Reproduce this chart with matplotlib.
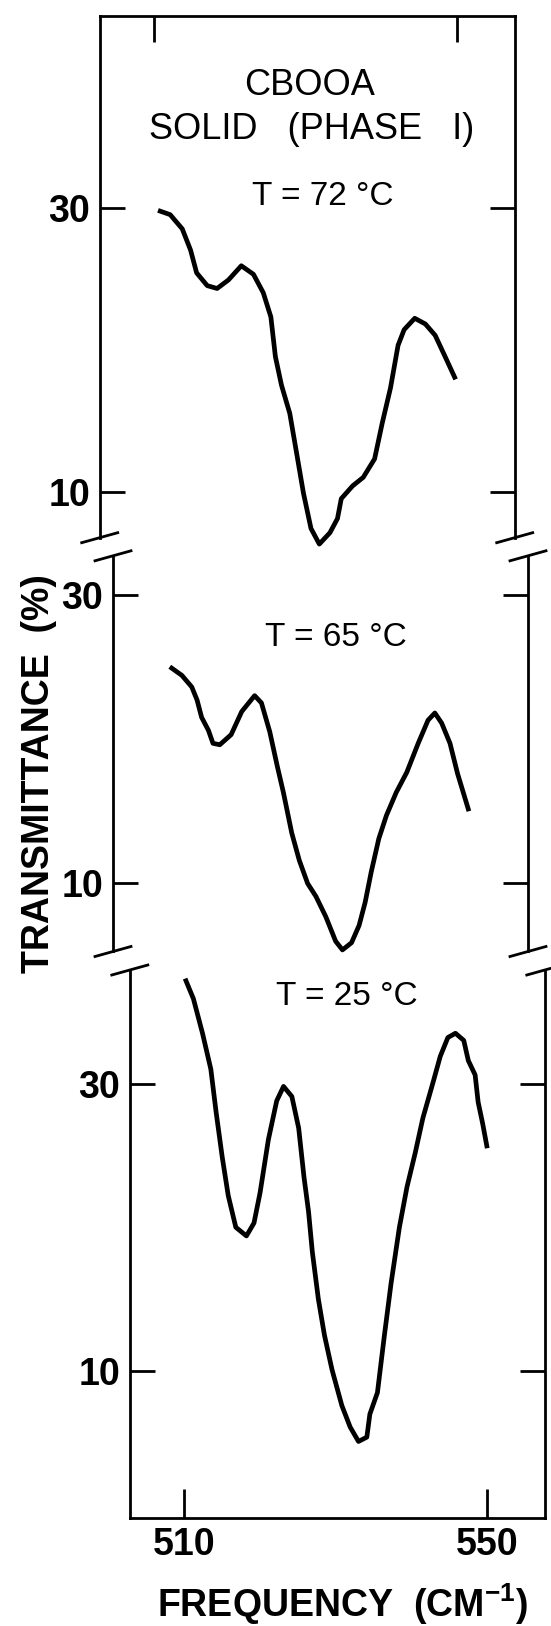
import matplotlib
matplotlib.use("Agg")
import matplotlib.pyplot as plt

plt.rcParams['font.family'] = ['Liberation Sans', 'DejaVu Sans']
plt.rcParams['mathtext.default'] = 'regular'

# ---------------- data ----------------
freq_72 = [510.5, 512.1, 513.7, 514.8, 515.6, 517.0, 518.3, 519.8, 521.5, 523.1,
           524.4, 525.4, 526.0, 526.8, 527.9, 528.9, 529.7, 530.7, 531.8, 533.2,
           534.2, 534.7, 536.2, 537.6, 539.1, 540.1, 541.2, 542.2, 543.0, 544.4,
           545.8, 547.1, 548.5, 549.8]
trans_72 = [29.8, 29.5, 28.5, 27.0, 25.4, 24.5, 24.3, 24.9, 25.9, 25.3,
            24.0, 22.3, 19.5, 17.5, 15.5, 12.4, 9.9, 7.4, 6.3, 7.1,
            8.1, 9.5, 10.4, 11.0, 12.3, 14.8, 17.3, 20.3, 21.4, 22.2,
            21.8, 21.0, 19.4, 17.9]

freq_65 = [510.3, 511.9, 513.2, 513.9, 514.5, 515.4, 516.0, 516.9, 518.4, 519.8,
           521.5, 522.4, 523.5, 524.5, 525.3, 526.4, 527.4, 528.5, 529.6, 530.9,
           532.2, 533.1, 534.3, 535.3, 536.1, 536.9, 537.9, 538.9, 540.2, 541.6,
           543.1, 544.4, 545.3, 546.2, 547.3, 548.3, 549.8]
trans_65 = [25.0, 24.4, 23.6, 22.7, 21.5, 20.6, 19.7, 19.6, 20.3, 21.9,
            23.0, 22.5, 20.5, 18.1, 16.3, 13.5, 11.6, 10.0, 9.1, 7.7,
            6.0, 5.4, 5.9, 7.1, 8.7, 10.8, 13.1, 14.7, 16.3, 17.7,
            19.7, 21.3, 21.8, 21.1, 19.7, 17.6, 15.0]

freq_25 = [510.1, 511.2, 512.4, 513.5, 514.2, 515.0, 515.8, 516.8, 518.2, 519.2,
           520.0, 521.1, 522.2, 523.1, 524.2, 525.1, 525.8, 526.4, 526.9, 527.7,
           528.5, 529.5, 530.8, 531.9, 533.0, 534.1, 534.5, 535.5, 536.4, 537.3,
           538.4, 539.4, 540.5, 541.5, 542.8, 543.8, 544.8, 545.8, 546.9, 547.5,
           548.4, 548.8, 549.4, 550.0]
trans_25 = [37.3, 35.9, 33.5, 31.0, 28.0, 24.9, 22.2, 20.0, 19.4, 20.3,
            22.4, 26.1, 28.8, 29.8, 29.1, 26.9, 23.5, 21.1, 18.3, 15.0,
            12.5, 10.1, 7.6, 6.1, 5.1, 5.4, 7.0, 8.5, 12.4, 16.1,
            20.0, 22.8, 25.2, 27.6, 30.0, 31.9, 33.2, 33.5, 33.0, 31.6,
            30.6, 28.7, 27.2, 25.5]

labels_T = ["T = 72 °C", "T = 65 °C", "T = 25 °C"]
y_ticks = [10, 30]
x_ticks = [510, 550]
x_lim = (502.8, 557.6)
y_lims = [(6.75, 43.46), (5.29, 32.68), (-0.19, 37.9)]

# ---------------- layout ----------------
W, H = 551, 1626
fig = plt.figure(figsize=(W / 100, H / 100), dpi=100)
AXW = 415.0
# (left px, top px, bottom px) of each panel
boxes = [(99.7, 16.4, 537.7), (113.0, 555.8, 951.5), (129.8, 970.0, 1517.5)]
label_pos = [(0.538, 0.6545), (0.537, 0.7923), (0.524, 0.9507)]

LW_FRAME = 2.0
series = [(freq_72, trans_72), (freq_65, trans_65), (freq_25, trans_25)]
axes = []
for i, ((l, t, b), (fx, ty)) in enumerate(zip(boxes, series)):
    ax = fig.add_axes([l / W, 1 - b / H, AXW / W, (b - t) / H])
    axes.append(ax)
    ax.plot(fx, ty, color='black', lw=3.4, solid_joinstyle='round',
            solid_capstyle='butt', clip_on=False)
    ax.set_xlim(*x_lim)
    ax.set_ylim(*y_lims[i])
    ax.set_yticks(y_ticks)
    ax.set_yticklabels([str(v) for v in y_ticks])
    ax.tick_params(axis='y', which='both', direction='in', length=18, width=2,
                   left=True, right=True, labelleft=True, labelright=False,
                   labelsize=27, pad=7)
    for lab in ax.get_yticklabels():
        lab.set_fontweight('bold')
    for s in ax.spines.values():
        s.set_linewidth(LW_FRAME)
    ax.spines['top'].set_visible(i == 0)
    ax.spines['bottom'].set_visible(i == 2)
    ax.set_xticks(x_ticks)
    if i == 0:
        ax.tick_params(axis='x', direction='in', length=19, width=2,
                       top=True, bottom=False, labeltop=False, labelbottom=False)
    elif i == 1:
        ax.tick_params(axis='x', length=0, top=False, bottom=False,
                       labeltop=False, labelbottom=False)
    else:
        ax.tick_params(axis='x', direction='in', length=21, width=2,
                       top=False, bottom=True, labelbottom=True, labelsize=27,
                       pad=7)
        ax.set_xticklabels([str(v) for v in x_ticks])
        for lab in ax.get_xticklabels():
            lab.set_fontweight('bold')
    ax.set_facecolor('none')
    ax.text(label_pos[i][0], label_pos[i][1], labels_T[i], transform=ax.transAxes,
            ha='center', va='center', fontsize=24)

    # axis-break marks
    hpx = b - t
    dx = 18.0 / AXW
    dy = 5.0 / hpx
    edges = []
    if i in (0, 1):
        edges.append(0.0)
    if i in (1, 2):
        edges.append(1.0)
    for y0 in edges:
        for x0 in (0.0, 1.0):
            ax.plot([x0 - dx, x0 + dx], [y0 - dy, y0 + dy], color='black',
                    lw=2.0, transform=ax.transAxes, clip_on=False)

ax1, ax2, ax3 = axes
ax1.text(0.5067, 0.8665, "CBOOA", transform=ax1.transAxes, ha='center',
         va='center', fontsize=26)
ax1.text(0.5116, 0.784, "SOLID   (PHASE   I)", transform=ax1.transAxes,
         ha='center', va='center', fontsize=26)

ax2.set_ylabel("TRANSMITTANCE  (%)", fontsize=27, fontweight='bold',
               va='center', ha='center')
ax2.yaxis.set_label_coords(-0.179, 0.4486)

ax3.set_xlabel("FREQUENCY  (CM$^{-1}$)", fontsize=27, fontweight='bold',
               va='center', ha='center')
ax3.xaxis.set_label_coords(0.513, -0.158)

fig.savefig("out.png", dpi=100, facecolor='white')
